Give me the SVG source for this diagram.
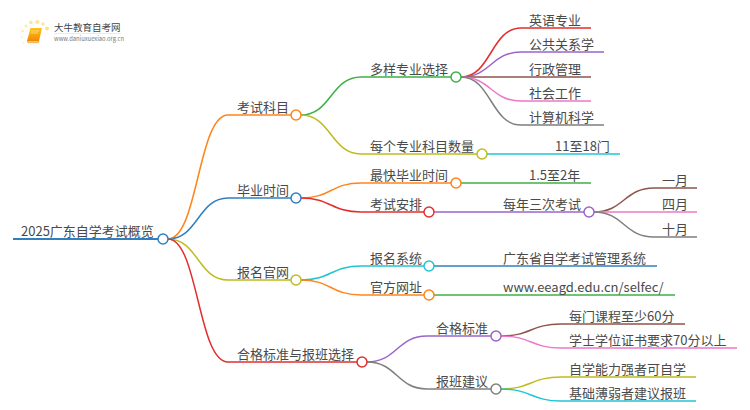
<svg xmlns="http://www.w3.org/2000/svg" width="750" height="410" viewBox="0 0 750 410">
<style>
text{font-family:"Noto Sans CJK SC","Noto Sans",sans-serif;font-size:13px;fill:#4a4a4a;transform:translateY(-.5px)}
.c path,.c line{fill:none;stroke-width:1.500}
.c line.w3{stroke-width:2.200}
circle{fill:#fff;stroke-width:1.500}
</style>
<defs>
<linearGradient id="bk" x1="0" y1="0" x2="0" y2="1"><stop offset="0" stop-color="#ffc21a"/><stop offset="1" stop-color="#f08a00"/></linearGradient>
</defs>
<rect width="750" height="410" fill="#fff"/>
<g id="logo">
<circle cx="47" cy="28.500" r="2" style="fill:#ffdf8a;stroke:none"/>
<circle cx="37.500" cy="22" r="2" style="fill:#ffe49c;stroke:none"/>
<circle cx="31" cy="22.500" r="1.800" style="fill:#ffe49c;stroke:none"/>
<circle cx="43" cy="24" r="1.800" style="fill:#ffe49c;stroke:none"/>
<circle cx="26" cy="26" r="1.500" style="fill:#ffe9b0;stroke:none"/>
<circle cx="22.500" cy="31" r="1.300" style="fill:#ffe9b0;stroke:none"/>
<circle cx="22" cy="37" r="1.100" style="fill:#ffefc8;stroke:none"/>
<circle cx="23.500" cy="43" r="1" style="fill:#ffefc8;stroke:none"/>
<path d="M30.500 28H42L39 41H27Z" fill="url(#bk)"/>
<path d="M27 41H39L38.300 42.700H28Z" fill="#fbdca6" stroke="#e88a10" stroke-width=".6"/>
<path d="M31 31H39M30.500 33H38" stroke="#ffe7a8" stroke-width=".7" fill="none"/>
<text x="54" y="31.500" style="font-size:9.500px;fill:#444">大牛教育自考网</text>
<line x1="54" y1="33.500" x2="121" y2="33.500" stroke="#ddd" stroke-width=".6"/>
<text x="54" y="41" style="font-size:5.800px;fill:#777">www.daniuxuexiao.org.cn</text>
</g>
<g id="connectors" class="c">
<line x1="13" y1="239" x2="158" y2="239" stroke="#2f7fc1" class="w3"/>
<path d="M168 239C198 239 198 115 228 115H291" stroke="#ff8419"/>
<path d="M168 239C198 239 198 198 228 198H291" stroke="#2f7fc1"/>
<path d="M168 239C198 239 198 280 228 280H291" stroke="#c0bb20"/>
<path d="M168 239C198 239 198 362 228 362H357" stroke="#e32e2e"/>
<path d="M301 115C331 115 331 77 361 77H451" stroke="#3cb043"/>
<path d="M301 115C331 115 331 154 361 154H477" stroke="#c0bb20"/>
<path d="M461 77C491 77 491 28 521 28H591" stroke="#e32e2e"/>
<path d="M461 77C491 77 491 52 521 52H604" stroke="#9c63c9"/>
<path d="M461 77H591" stroke="#8c564b"/>
<path d="M461 77C491 77 491 101 521 101H591" stroke="#ee78c8"/>
<path d="M461 77C491 77 491 125 521 125H604" stroke="#7f7f7f"/>
<path d="M487 154H620" stroke="#20c4d4"/>
<path d="M301 198C331 198 331 183 361 183H451" stroke="#ff8419"/>
<path d="M301 198C331 198 331 212 361 212H424" stroke="#e32e2e"/>
<path d="M461 183H591" stroke="#3cb043"/>
<path d="M434 212H584" stroke="#9c63c9"/>
<path d="M594 212C624 212 624 188 654 188H697" stroke="#8c564b"/>
<path d="M594 212H697" stroke="#ee78c8"/>
<path d="M594 212C624 212 624 237 654 237H697" stroke="#7f7f7f"/>
<path d="M301 280C331 280 331 266 361 266H424" stroke="#20c4d4"/>
<path d="M301 280C331 280 331 295 361 295H424" stroke="#ff8419"/>
<path d="M434 266H657" stroke="#2f7fc1"/>
<path d="M434 295H675" stroke="#3cb043"/>
<path d="M367 362C397 362 397 336 427 336H491" stroke="#9c63c9"/>
<path d="M367 362C397 362 397 389 427 389H491" stroke="#7f7f7f"/>
<path d="M501 336C531 336 531 324 561 324H685" stroke="#8c564b"/>
<path d="M501 336C531 336 531 348 561 348H737" stroke="#ee78c8"/>
<path d="M501 389C531 389 531 377 561 377H696" stroke="#c0bb20"/>
<path d="M501 389C531 389 531 401 561 401H696" stroke="#20c4d4"/>
</g>
<g id="root"><text x="21" y="236">2025广东自学考试概览</text><circle cx="163" cy="239" r="5" stroke="#2f7fc1"/></g>
<g id="n1"><text x="237" y="112">考试科目</text><circle cx="296" cy="115" r="5" stroke="#ff8419"/></g>
<g id="n2"><text x="237" y="195">毕业时间</text><circle cx="296" cy="198" r="5" stroke="#2f7fc1"/></g>
<g id="n3"><text x="237" y="277">报名官网</text><circle cx="296" cy="280" r="5" stroke="#c0bb20"/></g>
<g id="n4"><text x="237" y="359">合格标准与报班选择</text><circle cx="362" cy="362" r="5" stroke="#e32e2e"/></g>
<g id="n11"><text x="370" y="74">多样专业选择</text><circle cx="456" cy="77" r="5" stroke="#3cb043"/></g>
<g id="n12"><text x="370" y="151">每个专业科目数量</text><circle cx="482" cy="154" r="5" stroke="#c0bb20"/></g>
<g id="n21"><text x="370" y="180">最快毕业时间</text><circle cx="456" cy="183" r="5" stroke="#ff8419"/></g>
<g id="n22"><text x="370" y="209">考试安排</text><circle cx="429" cy="212" r="5" stroke="#e32e2e"/></g>
<g id="n31"><text x="370" y="263">报名系统</text><circle cx="429" cy="266" r="5" stroke="#20c4d4"/></g>
<g id="n32"><text x="370" y="292">官方网址</text><circle cx="429" cy="295" r="5" stroke="#ff8419"/></g>
<g id="n41"><text x="436" y="333">合格标准</text><circle cx="496" cy="336" r="5" stroke="#9c63c9"/></g>
<g id="n42"><text x="436" y="386">报班建议</text><circle cx="496" cy="389" r="5" stroke="#7f7f7f"/></g>
<g id="n221"><text x="503" y="209">每年三次考试</text><circle cx="589" cy="212" r="5" stroke="#9c63c9"/></g>
<g id="l1"><text x="529" y="25">英语专业</text></g>
<g id="l2"><text x="529" y="49">公共关系学</text></g>
<g id="l3"><text x="529" y="74">行政管理</text></g>
<g id="l4"><text x="529" y="98">社会工作</text></g>
<g id="l5"><text x="529" y="122">计算机科学</text></g>
<g id="l6"><text x="555" y="151">11至18门</text></g>
<g id="l7"><text x="529" y="180">1.5至2年</text></g>
<g id="l8"><text x="662" y="185">一月</text></g>
<g id="l9"><text x="662" y="209">四月</text></g>
<g id="l10"><text x="662" y="234">十月</text></g>
<g id="l11"><text x="503" y="263">广东省自学考试管理系统</text></g>
<g id="l12"><text x="503" y="292">www.eeagd.edu.cn/selfec/</text></g>
<g id="l13"><text x="569" y="321">每门课程至少60分</text></g>
<g id="l14"><text x="569" y="345">学士学位证书要求70分以上</text></g>
<g id="l15"><text x="569" y="374">自学能力强者可自学</text></g>
<g id="l16"><text x="569" y="398">基础薄弱者建议报班</text></g>
</svg>
